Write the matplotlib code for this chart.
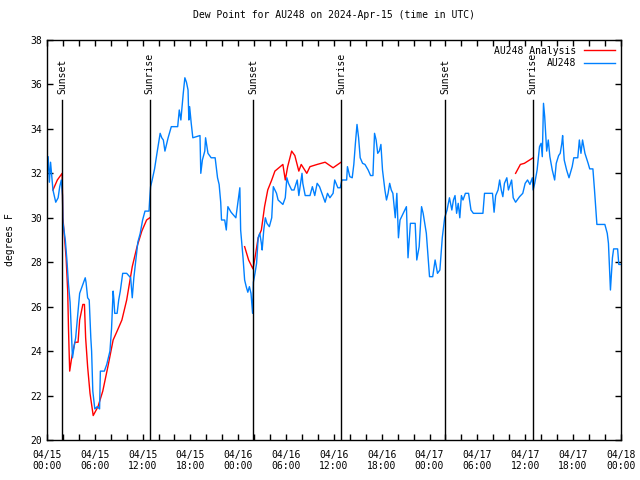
import numpy as np
import pandas as pd
import matplotlib
matplotlib.use('Agg')
import matplotlib.pyplot as plt
import matplotlib.dates as mdates

# hours after 2024-04-15 00:00 UTC and dew point (F)
obs_hours = [0.0, 0.15, 0.3, 0.45, 0.75, 1.1, 1.4, 1.6, 1.8, 1.95, 2.0, 2.3, 2.5, 2.7, 2.9, 3.1, 3.2, 3.4, 3.6, 3.9,
             4.1, 4.5, 4.8, 4.9, 5.1, 5.3, 5.5, 5.6, 5.75, 6.0, 6.3, 6.6, 6.7, 7.2, 7.5, 7.9, 8.1, 8.3, 8.4, 8.5,
             8.8, 9.0, 9.2, 9.5, 10.0, 10.5, 10.7, 10.9, 11.4, 11.7, 12.0, 12.3, 12.8, 12.9, 13.0, 13.2, 13.5, 13.8,
             14.2, 14.4, 14.6, 14.8, 15.0, 15.2, 15.6, 16.4, 16.6, 16.8, 17.1, 17.3, 17.5, 17.7, 17.8, 17.9, 18.1,
             18.3, 19.2, 19.3, 19.5, 19.8, 19.9, 20.2, 20.6, 21.1, 21.4, 21.6, 21.8, 21.9, 22.3, 22.5, 22.7, 23.1,
             23.7, 24.0, 24.2, 24.3, 24.6, 24.8, 25.0, 25.2, 25.4, 25.6, 25.8, 25.9, 26.1, 26.3, 26.5, 26.7, 26.9,
             27.0, 27.2, 27.4, 27.6, 27.9, 28.2, 28.4, 28.8, 29.0, 29.6, 29.9, 30.1, 30.3, 30.7, 31.0, 31.4, 31.6,
             32.0, 32.1, 32.4, 33.0, 33.3, 33.6, 33.9, 34.2, 34.5, 34.9, 35.2, 35.5, 35.9, 36.1, 36.5, 36.8, 37.0,
             37.6, 37.7, 38.0, 38.3, 38.5, 38.7, 38.9, 39.1, 39.3, 39.6, 39.9, 40.3, 40.6, 40.9, 41.1, 41.3, 41.5,
             41.7, 41.9, 42.1, 42.4, 42.6, 42.8, 43.0, 43.2, 43.4, 43.7, 43.9, 44.1, 44.3, 44.7, 45.1, 45.3, 45.6,
             46.2, 46.4, 46.7, 47.0, 47.2, 47.6, 48.0, 48.4, 48.7, 49.0, 49.3, 49.6, 49.9, 50.2, 50.5, 50.8, 51.0,
             51.2, 51.4, 51.6, 51.8, 52.0, 52.2, 52.5, 52.9, 53.2, 53.5, 54.7, 54.9, 55.9, 56.1, 56.3, 56.6, 56.8,
             57.0, 57.2, 57.4, 57.7, 57.9, 58.3, 58.5, 58.8, 59.3, 59.7, 60.0, 60.3, 60.6, 60.9, 61.0, 61.2, 61.5,
             61.8, 62.0, 62.15, 62.3, 62.45, 62.6, 62.7, 62.9, 63.1, 63.4, 63.7, 63.9, 64.2, 64.4, 64.6, 64.7, 64.9,
             65.2, 65.5, 65.9, 66.1, 66.6, 66.8, 67.0, 67.2, 67.5, 67.9, 68.1, 68.5, 68.7, 69.0, 70.0, 70.3, 70.45,
             70.6, 70.7, 70.85, 70.95, 71.1, 71.6, 71.75, 72.0]
obs_dewpt = [31.8, 32.75, 31.6, 32.5, 31.25, 30.7, 30.9, 31.4, 31.7, 31.0, 29.8, 29.0, 28.1, 27.0, 26.2, 24.6, 23.7,
             24.2, 24.6, 25.8, 26.6, 27.0, 27.3, 27.1, 26.4, 26.3, 24.6, 24.0, 22.2, 21.4, 21.5, 21.4, 23.1, 23.1,
             23.4, 24.0, 25.0, 26.7, 26.3, 25.7, 25.7, 26.3, 26.7, 27.5, 27.5, 27.3, 26.4, 27.3, 28.9, 29.3, 29.9,
             30.3, 30.3, 30.9, 31.4, 31.7, 32.2, 32.9, 33.8, 33.6, 33.5, 33.0, 33.3, 33.6, 34.1, 34.1, 34.85, 34.4,
             35.6, 36.3, 36.1, 35.75, 34.4, 35.0, 34.25, 33.6, 33.7, 32.0, 32.6, 33.0, 33.6, 32.9, 32.7, 32.7, 31.8,
             31.5, 30.7, 29.9, 29.9, 29.45, 30.5, 30.25, 30.0, 30.8, 31.35, 29.45, 28.2, 27.2, 26.9, 26.65, 26.9,
             26.6, 25.7, 27.1, 27.5, 27.95, 29.1, 29.3, 28.85, 28.55, 29.45, 30.0, 29.75, 29.6, 30.0, 31.4, 31.1,
             30.8, 30.6, 30.9, 31.8, 31.55, 31.25, 31.25, 31.7, 31.0, 32.0, 31.55, 31.0, 31.0, 31.4, 31.0, 31.55,
             31.4, 31.1, 30.7, 31.1, 30.9, 31.1, 31.7, 31.35, 31.35, 31.7, 31.7, 32.3, 31.85, 31.8, 32.4, 33.35,
             34.2, 33.6, 32.7, 32.45, 32.4, 32.15, 31.9, 31.9, 33.8, 33.5, 32.9, 33.0, 33.3, 32.15, 31.25, 30.8,
             31.1, 31.55, 31.25, 31.1, 30.0, 31.1, 29.1, 29.9, 30.2, 30.5, 28.2, 29.75, 29.75, 28.1, 28.7, 30.5,
             30.2, 29.3, 27.35, 27.35, 28.1, 27.5, 27.65, 29.1, 30.0, 30.35, 30.9, 30.35, 30.8, 31.0, 30.2, 30.65,
             30.0, 31.0, 30.8, 31.1, 31.1, 30.35, 30.2, 30.2, 31.1, 31.1, 30.25, 31.0, 31.25, 31.7, 31.25, 30.95,
             31.55, 31.8, 31.25, 31.7, 30.9, 30.7, 30.95, 31.1, 31.55, 31.7, 31.5, 31.8, 31.25, 31.55, 32.15, 33.2,
             33.35, 32.75, 35.15, 34.55, 33.6, 33.0, 33.5, 32.75, 32.15, 31.7, 32.45, 32.8, 32.9, 33.35, 33.7,
             32.6, 32.15, 31.8, 32.3, 32.7, 32.7, 33.5, 32.9, 33.5, 32.9, 32.45, 32.2, 32.2, 31.25, 29.7, 29.7,
             29.3, 28.85, 27.65, 26.75, 27.65, 28.2, 28.6, 28.6, 27.9, 27.9]

# analysis series (NaN = gap)
ana_hours = [0.75, 1.3, 1.9, 2.0, 2.4, 2.6, 2.7, 2.8, 2.85, 3.1, 3.5, 3.9, 4.1, 4.5, 4.7, 4.85, 5.1, 5.4, 5.8,
             6.4, 7.0, 7.7, 8.3, 8.8, 9.4, 10.0, 10.7, 11.3, 11.9, 12.5, 12.9, 18.0,
             24.8, 25.3, 25.85, 26.1, 26.5, 26.9, 27.3, 27.7, 28.2, 28.6, 29.6, 29.9, 30.2, 30.7, 31.1, 31.6,
             31.9, 32.6, 33.0, 33.9, 34.9, 35.9, 36.9, 48.0,
             58.8, 59.4, 59.9, 61.0]
ana_dewpt = [31.25, 31.7, 32.0, 30.0, 28.2, 26.7, 25.0, 23.7, 23.1, 23.7, 24.4, 24.4, 25.4, 26.1, 26.1, 24.6,
             23.3, 22.1, 21.1, 21.5, 22.2, 23.4, 24.5, 24.9, 25.4, 26.3, 27.8, 28.7, 29.4, 29.9, 30.0, np.nan,
             28.7, 28.1, 27.7, 28.2, 29.1, 29.45, 30.5, 31.25, 31.7, 32.1, 32.4, 31.7, 32.3, 33.0, 32.8, 32.1,
             32.4, 32.0, 32.3, 32.4, 32.5, 32.25, 32.5, np.nan,
             32.0, 32.4, 32.45, 32.7]

sun_times = ['2024-04-15 01:53', '2024-04-15 12:54', '2024-04-16 01:51',
             '2024-04-16 12:54', '2024-04-17 01:56', '2024-04-17 12:58']
sun_labels = ['Sunset', 'Sunrise', 'Sunset', 'Sunrise', 'Sunset', 'Sunrise']

start = pd.Timestamp('2024-04-15 00:00')
t_obs = start + pd.to_timedelta(obs_hours, unit='h')
t_ana = start + pd.to_timedelta(ana_hours, unit='h')

plt.rcParams['font.family'] = ['DejaVu Sans Mono']
plt.rcParams['font.size'] = 7

fig = plt.figure(figsize=(6.4, 4.8), dpi=100)
ax = fig.add_axes([0.0734, 0.0833, 0.8966, 0.8334])

ax.plot(t_ana, ana_dewpt, color='#ff0000', lw=1, label='AU248 Analysis')
ax.plot(t_obs, obs_dewpt, color='#0080ff', lw=1, label='AU248')

for ts, lab in zip(sun_times, sun_labels):
    t = pd.Timestamp(ts)
    ax.axvline(t, ymin=0, ymax=0.85, color='black', lw=1)
    ax.text(t, 0.865, lab, transform=ax.get_xaxis_transform(), rotation=90,
            ha='center', va='bottom', fontsize=7)

ax.set_xlim(start, start + pd.Timedelta(hours=72))
ax.set_ylim(20, 38)
ax.set_yticks(np.arange(20, 39, 2))
ax.xaxis.set_major_locator(mdates.HourLocator(byhour=[0, 6, 12, 18]))
ax.xaxis.set_major_formatter(mdates.DateFormatter('%m/%d\n%H:%M'))
ax.xaxis.set_minor_locator(mdates.HourLocator(byhour=range(0, 24, 2)))
ax.tick_params(which='both', direction='in', top=True, right=True, length=4, width=1)
ax.tick_params(axis='x', pad=7)
for s in ax.spines.values():
    s.set_linewidth(1)

ax.set_ylabel('degrees F', labelpad=11)
ax.set_title('Dew Point for AU248 on 2024-Apr-15 (time in UTC)', pad=16, fontsize=7)

ax.legend(loc='upper right', frameon=False, markerfirst=False, handlelength=3.2,
          borderaxespad=0.2, labelspacing=0.25, handletextpad=0.8, fontsize=7)

fig.savefig('out.png', dpi=100)
